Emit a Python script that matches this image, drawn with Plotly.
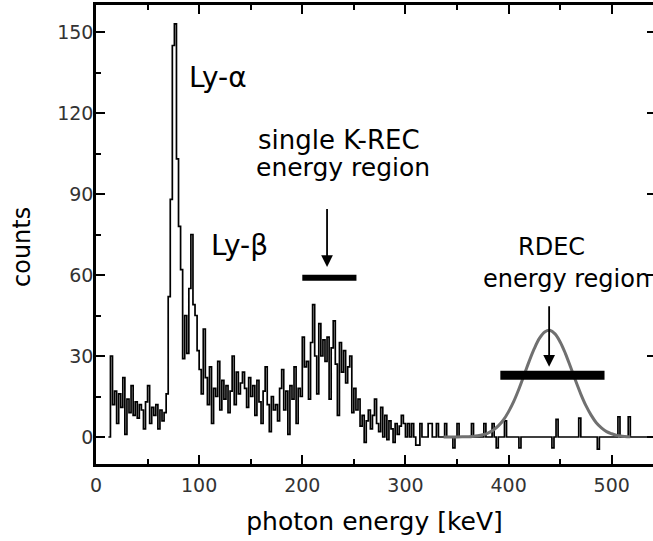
import numpy as np
import plotly.graph_objects as go

# ---------------- data ----------------
bin_start = 12      # keV, first bin
bin_width = 2       # keV
end_energy = 540    # keV, end of recorded spectrum

# counts per bin, 12 keV ... 298 keV
dense_counts = [
    0, 30, 12, 17, 5, 16, 11, 22, 1, 14,        # 12-30
    9, 19, 8, 13, 7, 12, 10, 3, 13, 19,         # 32-50
    5, 11, 8, 12, 3, 10, 6, 9, 16, 52,          # 52-70
    88, 145, 153, 103, 78, 62, 29, 45, 31, 55,  # 72-90
    75, 49, 45, 32, 25, 16, 40, 22, 12, 26,     # 92-110
    5, 18, 15, 28, 10, 21, 14, 19, 9, 17,       # 112-130
    30, 12, 24, 16, 20, 24, 18, 11, 22, 15,     # 132-150
    19, 8, 21, 13, 5, 17, 26, 12, 2, 15,        # 152-170
    10, 12, 6, 18, 25, 10, 17, 1, 19, 14,       # 172-190
    26, 5, 18, 15, 37, 26, 28, 14, 35, 49,      # 192-210
    30, 16, 42, 30, 36, 28, 37, 14, 33, 43,     # 212-230
    27, 8, 35, 24, 32, 20, 26, 30, 9, 18,       # 232-250
    10, 14, 4, 8, -2, 6, 10, 3, 8, 14,          # 252-270
    5, 2, 11, 0, 8, -1, 6, 3, -2, 5,            # 272-290
    1, 4, 8, 5,                                 # 292-298
]

# isolated single-bin entries above 300 keV (all other bins are 0)
spike_energy = [302, 306, 310, 312, 314, 322, 324, 330, 338, 346, 350, 364,
                376, 384, 388, 396, 410, 442, 446, 468, 486, 506, 516]
spike_counts = [5, 5, -3, -3, 5, 5, 5, 5, 5, -4, 5, 5,
                5, 5, -4, 6, -4, -4, 6.5, 7, -4.5, 7.5, 7.5]

# RDEC expectation curve (grey)
rdec_fit_energy = [337, 340, 345, 350, 355, 360, 365, 370, 375, 380, 385, 390,
                   395, 400, 405, 410, 415, 420, 425, 430, 435, 440, 445, 450,
                   455, 460, 465, 470, 475, 480, 485, 490, 495, 500, 505, 510,
                   515, 518]
rdec_fit_counts = [0, 0, 0.01, 0.02, 0.05, 0.11, 0.22, 0.44, 0.82, 1.47, 2.5, 4.1,
                   6.3, 9.4, 13.2, 17.8, 22.9, 28.1, 32.8, 36.6, 38.9, 39.5, 38.2, 35.2,
                   31.0, 26.0, 20.8, 15.9, 11.6, 8.1, 5.3, 3.4, 2.0, 1.2, 0.6, 0.3,
                   0.1, 0.05]

# energy-region bars and arrows
krec_bar_x = [200, 252.5]
krec_bar_y = [59, 59]
krec_arrow = dict(x=224, y_tail=85, y_tip=63)
rdec_bar_x = [392, 493]
rdec_bar_y = [22.9, 22.9]
rdec_arrow = dict(x=439.3, y_tail=49, y_tip=26)

x_ticks = [0, 100, 200, 300, 400, 500]
y_ticks = [0, 30, 60, 90, 120, 150]
y_range = [-10, 160]

# ---------------- build histogram ----------------
n_bins = (end_energy - bin_start) // bin_width
counts = np.zeros(n_bins)
counts[:len(dense_counts)] = dense_counts
for e, c in zip(spike_energy, spike_counts):
    counts[(e - bin_start) // bin_width] = c
edges = bin_start + bin_width * np.arange(n_bins + 1)
step_y = list(counts) + [counts[-1]]

FONT = "DejaVu Sans"
W, H = 653, 541
ML, MR, MT, MB = 96, 0, 5, 77
PW, PH = W - ML - MR, H - MT - MB

fig = go.Figure()
fig.add_trace(go.Scatter(x=edges, y=step_y, mode="lines", line_shape="hv",
                         line=dict(color="black", width=1.7), hoverinfo="skip"))
fig.add_trace(go.Scatter(x=rdec_fit_energy, y=rdec_fit_counts, mode="lines",
                         line=dict(color="#707070", width=3, shape="spline"),
                         hoverinfo="skip"))
fig.add_trace(go.Scatter(x=krec_bar_x, y=krec_bar_y, mode="lines",
                         line=dict(color="black", width=6), hoverinfo="skip"))
fig.add_trace(go.Scatter(x=rdec_bar_x, y=rdec_bar_y, mode="lines",
                         line=dict(color="black", width=9), hoverinfo="skip"))
# invisible trace that activates the right-hand tick axis
fig.add_trace(go.Scatter(x=[None], y=[None], yaxis="y2", showlegend=False,
                         hoverinfo="skip"))

for a in (krec_arrow, rdec_arrow):
    fig.add_annotation(x=a["x"], y=a["y_tip"], ax=a["x"], ay=a["y_tail"],
                       xref="x", yref="y", axref="x", ayref="y", text="",
                       showarrow=True, arrowhead=2, arrowsize=1.3,
                       arrowwidth=1.8, arrowcolor="black")

def label(text, x, y, size, xanchor="center"):
    fig.add_annotation(x=x, y=y, xref="x", yref="y", text=text, showarrow=False,
                       xanchor=xanchor, yanchor="middle",
                       font=dict(family=FONT, size=size, color="black"))

label("Ly-α", 88.6, 133, 28, "left")
label("Ly-β", 109.5, 71, 28, "left")
label("single K-REC", 236, 110, 26)
label("energy region", 239, 100, 25)
label("RDEC", 441.6, 70.4, 24)
label("energy region", 372.8, 58.6, 24, "left")

# y-axis title as free text (sits a little below the axis centre)
fig.add_annotation(x=(22 - ML) / PW, y=(MT + PH - 247) / PH, xref="paper",
                   yref="paper", text="counts", showarrow=False, textangle=-90,
                   xanchor="center", yanchor="middle",
                   font=dict(family=FONT, size=24, color="black"))

tick_common = dict(ticks="inside", ticklen=9, tickwidth=2, tickcolor="black",
                   showgrid=False, zeroline=False,
                   tickfont=dict(family=FONT, size=19, color="#333"))

fig.update_layout(
    width=W, height=H, margin=dict(l=ML, r=MR, t=MT, b=MB),
    plot_bgcolor="white", paper_bgcolor="white", showlegend=False,
    font=dict(family=FONT),
    xaxis=dict(range=[0, 540], tickvals=x_ticks, showline=True, linewidth=2.5,
               linecolor="black", mirror="ticks",
               minor=dict(dtick=50, tick0=0, ticks="inside", ticklen=5,
                          tickwidth=1.5, tickcolor="black"),
               ticklabelstandoff=2,
               title=dict(text="photon energy [keV]", standoff=18,
                          font=dict(family=FONT, size=25, color="black")),
               **tick_common),
    yaxis=dict(range=y_range, tickvals=y_ticks, showline=True, linewidth=2.5,
               linecolor="black", mirror=False,
               minor=dict(dtick=15, tick0=0, ticks="inside", ticklen=5,
                          tickwidth=1.5, tickcolor="black"),
               ticklabelstandoff=-4, **tick_common),
    yaxis2=dict(range=y_range, tickvals=y_ticks, overlaying="y", side="right",
                showline=False, showticklabels=False, ticks="inside", ticklen=6,
                tickwidth=2, tickcolor="black", showgrid=False, zeroline=False),
)

fig.write_html("out.html")
